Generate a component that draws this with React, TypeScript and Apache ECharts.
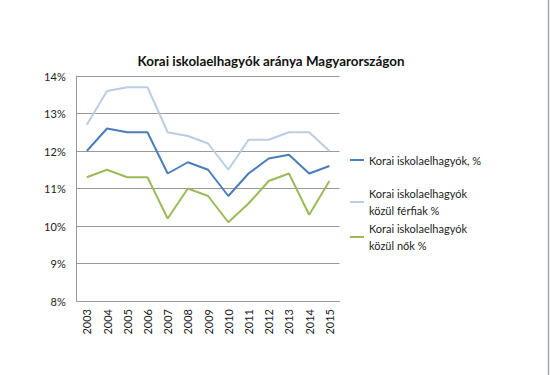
import React, { useEffect, useRef } from "react";
import * as echarts from "echarts";

const years = ["2003", "2004", "2005", "2006", "2007", "2008", "2009", "2010", "2011", "2012", "2013", "2014", "2015"];
const total = [12.0, 12.6, 12.5, 12.5, 11.4, 11.7, 11.5, 10.8, 11.4, 11.8, 11.9, 11.4, 11.6];
const male = [12.7, 13.6, 13.7, 13.7, 12.5, 12.4, 12.2, 11.5, 12.3, 12.3, 12.5, 12.5, 12.0];
const female = [11.3, 11.5, 11.3, 11.3, 10.2, 11.0, 10.8, 10.1, 10.6, 11.2, 11.4, 10.3, 11.2];

const seriesNames = [
  "Korai iskolaelhagyók, %",
  "Korai iskolaelhagyók\nközül férfiak %",
  "Korai iskolaelhagyók\nközül nők %",
];
const colors = ["#4a7ebb", "#b9cde5", "#9bbb59"];
const titleText = "Korai iskolaelhagyók aránya Magyarországon";

const FONT = "Lato, 'Open Sans', sans-serif";

export default function App() {
  const ref = useRef<HTMLDivElement>(null);
  useEffect(() => {
    if (!ref.current) return;
    const chart = echarts.init(ref.current, null, { renderer: "svg" });
    const legendTops = [151.5, 176.5, 211.5];
    const legends = seriesNames.map((n, i) => ({
      left: 349,
      top: legendTops[i],
      orient: "vertical",
      padding: 0,
      itemWidth: 14,
      itemHeight: 2,
      data: [n],
      selectedMode: false,
      textStyle: {
        fontFamily: FONT,
        fontSize: 11,
        color: "#222",
        lineHeight: 17,
        padding: i === 0 ? 0 : [17, 0, 0, 0],
      },
    }));
    chart.setOption({
      animation: false,
      backgroundColor: "#fff",
      title: {
        text: titleText,
        left: 266,
        textAlign: "center",
        top: 49,
        textStyle: { fontFamily: FONT, fontSize: 13.4, fontWeight: "bold", color: "#111" },
      },
      legend: legends,
      grid: { left: 76.7, right: 210.5, top: 76, bottom: 74, containLabel: false },
      xAxis: {
        type: "category",
        data: years,
        boundaryGap: true,
        axisLine: { show: true, lineStyle: { color: "#999", width: 1 } },
        axisTick: { show: false },
        axisLabel: { rotate: 90, margin: 8, fontFamily: FONT, fontSize: 11, color: "#222", interval: 0 },
      },
      yAxis: {
        type: "value",
        min: 8,
        max: 14,
        interval: 1,
        axisLine: { show: true, lineStyle: { color: "#999", width: 1 } },
        axisTick: { show: false },
        splitLine: { lineStyle: { color: "#999", width: 1 } },
        axisLabel: { margin: 11, fontFamily: FONT, fontSize: 11, color: "#222", formatter: (v: number) => v + "%" },
      },
      series: [total, male, female].map((d, i) => ({
        name: seriesNames[i],
        type: "line",
        data: d,
        symbol: "none",
        lineStyle: { color: colors[i], width: 2 },
        itemStyle: { color: colors[i] },
        z: 3 - i,
      })),
      graphic: [
        {
          type: "line",
          shape: { x1: 548.5, y1: 0, x2: 548.5, y2: 375 },
          style: { stroke: "#a3a7ae", lineWidth: 1.5 },
        },
      ],
    });
    return () => chart.dispose();
  }, []);
  return <div ref={ref} style={{ position: "fixed", left: 0, top: 0, width: 550, height: 375 }} />;
}
